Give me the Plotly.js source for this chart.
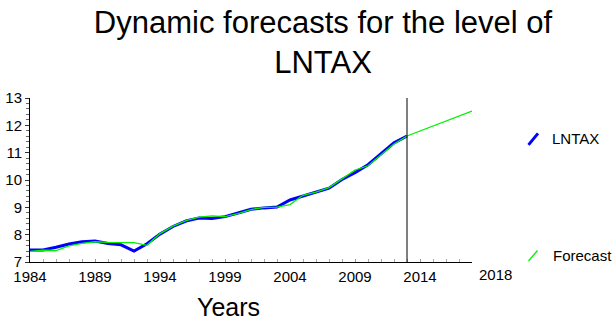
<!DOCTYPE html>
<html>
<head>
<meta charset="utf-8">
<script src="https://cdn.plot.ly/plotly-3.0.1.min.js"></script>
<style>
  html, body { margin: 0; padding: 0; background: #fff; }
  #chart { width: 613px; height: 322px; }
</style>
</head>
<body>
<div id="chart"></div>
<script>
// Annual observations of LNTAX and the model's dynamic forecast
const years = [1984, 1985, 1986, 1987, 1988, 1989, 1990, 1991, 1992, 1993,
               1994, 1995, 1996, 1997, 1998, 1999, 2000, 2001, 2002, 2003,
               2004, 2005, 2006, 2007, 2008, 2009, 2010, 2011, 2012, 2013,
               2014, 2015, 2016, 2017, 2018];

const lntax = [7.44, 7.44, 7.54, 7.66, 7.74, 7.77, 7.68, 7.63, 7.40, 7.67,
               8.02, 8.30, 8.50, 8.61, 8.59, 8.66, 8.79, 8.93, 8.98, 9.01,
               9.27, 9.41, 9.55, 9.70, 10.02, 10.27, 10.56, 10.97, 11.36, 11.61];

const forecast = [7.39, 7.43, 7.42, 7.59, 7.68, 7.74, 7.72, 7.71, 7.71, 7.61,
                  8.04, 8.31, 8.51, 8.64, 8.69, 8.66, 8.77, 8.92, 9.00, 9.01,
                  9.10, 9.44, 9.56, 9.72, 10.03, 10.36, 10.52, 10.92, 11.32, 11.61,
                  11.79, 11.97, 12.16, 12.34, 12.52];

const forecastStart = 2013;

const xTickVals = [1984, 1989, 1994, 1999, 2004, 2009, 2014];
const xTickText = ['1984', '1989', '1994', '1999', '2004', '2009', '2014'];
const xEndLabel = '2018';
const yTickVals = [7, 8, 9, 10, 11, 12, 13];

const seriesNames = ['LNTAX', 'Forecast'];
const titleText = 'Dynamic forecasts for the level of<br>LNTAX';
const xTitle = 'Years';

// plot-area geometry in pixels, used to place the free-standing legend marks
const W = 613, H = 322;
const M = { l: 30, r: 141, t: 98, b: 59.5 };
const PW = W - M.l - M.r, PH = H - M.t - M.b;
const px = x => (x - M.l) / PW;
const py = y => (H - M.b - y) / PH;

const FONT = 'Liberation Sans, Arial, sans-serif';
const BLUE = '#0000ff';
const GREEN = '#00f000';

const traces = [
  {
    x: years.slice(0, lntax.length), y: lntax, name: seriesNames[0],
    type: 'scatter', mode: 'lines',
    line: { color: BLUE, width: 3 }
  },
  {
    x: years, y: forecast, name: seriesNames[1],
    type: 'scatter', mode: 'lines',
    line: { color: GREEN, width: 1.3 }
  }
];

const layout = {
  width: W, height: H,
  margin: M,
  paper_bgcolor: '#ffffff',
  plot_bgcolor: '#ffffff',
  showlegend: false,
  font: { family: FONT, color: '#000' },
  title: {
    text: titleText,
    font: { family: FONT, size: 31, color: '#000' },
    xref: 'paper', x: px(323), xanchor: 'center',
    yref: 'container', y: 0.898, yanchor: 'top'
  },
  xaxis: {
    range: [1984, 2018],
    showgrid: false, zeroline: false,
    showline: true, linecolor: '#000', linewidth: 1,
    tickmode: 'array', tickvals: xTickVals, ticktext: xTickText,
    ticks: 'inside', ticklen: 3, tickcolor: '#999',
    ticklabelstandoff: 1,
    minor: { dtick: 1, ticks: 'inside', ticklen: 3, tickcolor: '#aaa' },
    tickfont: { family: FONT, size: 15, color: '#000' }
  },
  yaxis: {
    range: [7, 13],
    showgrid: false, zeroline: false,
    showline: true, linecolor: '#000', linewidth: 1,
    tickmode: 'array', tickvals: yTickVals,
    ticks: 'outside', ticklen: 4, tickcolor: '#333',
    minor: { dtick: 0.2, ticks: 'outside', ticklen: 3, tickcolor: '#666' },
    tickfont: { family: FONT, size: 15, color: '#000' }
  },
  // twin of the y axis carrying the inner half of the crossing ticks
  yaxis2: {
    range: [7, 13], overlaying: 'y', side: 'left',
    showgrid: false, zeroline: false, showline: false,
    tickmode: 'array', tickvals: yTickVals, showticklabels: false,
    ticks: 'inside', ticklen: 4, tickcolor: '#333',
    minor: { dtick: 0.2, ticks: 'inside', ticklen: 3, tickcolor: '#666' }
  },
  shapes: [
    { type: 'line', xref: 'x', yref: 'paper', x0: forecastStart, x1: forecastStart,
      y0: 0, y1: 1, line: { color: '#000', width: 1 } },
    { type: 'line', xref: 'paper', yref: 'paper',
      x0: px(528.5), y0: py(145), x1: px(538), y1: py(133.5),
      line: { color: BLUE, width: 3 } },
    { type: 'line', xref: 'paper', yref: 'paper',
      x0: px(528.5), y0: py(261.5), x1: px(537.5), y1: py(251),
      line: { color: GREEN, width: 1.3 } }
  ],
  annotations: [
    { xref: 'paper', yref: 'paper', x: px(495), y: py(275), text: xEndLabel,
      showarrow: false, xanchor: 'center', yanchor: 'middle',
      font: { family: FONT, size: 15, color: '#000' } },
    { xref: 'paper', yref: 'paper', x: px(228), y: py(308), text: xTitle,
      showarrow: false, xanchor: 'center', yanchor: 'middle',
      font: { family: FONT, size: 25, color: '#000' } },
    { xref: 'paper', yref: 'paper', x: px(549.5), y: py(139), text: seriesNames[0],
      showarrow: false, xanchor: 'left', yanchor: 'middle',
      font: { family: FONT, size: 15, color: '#000' } },
    { xref: 'paper', yref: 'paper', x: px(550.5), y: py(256), text: seriesNames[1],
      showarrow: false, xanchor: 'left', yanchor: 'middle',
      font: { family: FONT, size: 15, color: '#000' } }
  ]
};

Plotly.newPlot('chart', traces, layout, { staticPlot: true, displayModeBar: false });
</script>
</body>
</html>
